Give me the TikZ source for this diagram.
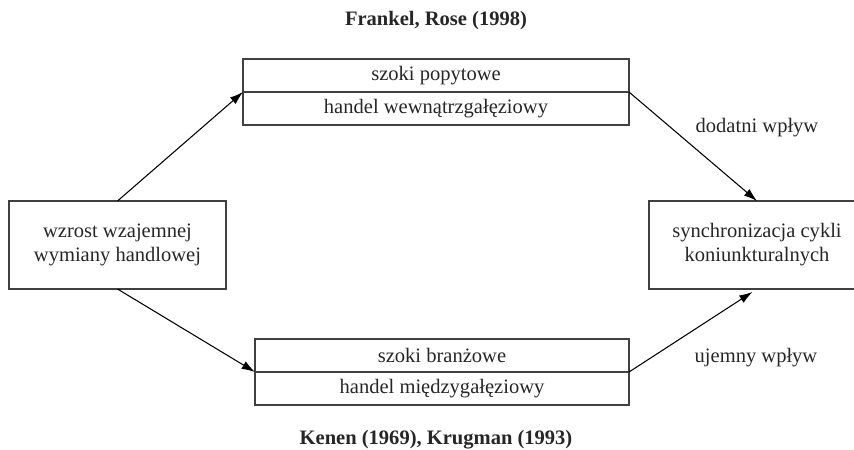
\documentclass[tikz,border=0pt]{standalone}
\usepackage{fontspec}
\setmainfont{Liberation Serif}
\usepackage{tikz}
\usetikzlibrary{arrows.meta, positioning}

\begin{document}
\begin{tikzpicture}[
        x=0.75pt, y=-0.75pt,
        every node/.style={font=\fontsize{15.4}{18}\selectfont, text=black!85},
        box/.style={rectangle, draw=black!75, line width=1.1pt, align=center, inner sep=0pt, outer sep=0pt},
        row/.style={box, minimum height=24.75pt},
        source/.style={font=\fontsize{15.4}{18}\selectfont\bfseries},
        arrow/.style={-{Latex[length=10pt, width=6.5pt]}, line width=0.8pt, draw=black},
    ]
        \useasboundingbox (0,0) rectangle (854,450);

        % Sources
        \node[source] (frankel) at (436,21) {Frankel, Rose (1998)};
        \node[source] (kenen) at (436,440) {Kenen (1969), Krugman (1993)};

        % Outer boxes
        \node[box, minimum width=162.75pt, minimum height=66pt] (wzrost) at (117.5,245) {wzrost wzajemnej\\wymiany handlowej};
        \node[box, minimum width=162pt, minimum height=66pt] (synchr) at (757,245) {synchronizacja cykli\\koniunkturalnych};

        % Upper channel
        \node[row, minimum width=289.5pt] (popyt) at (436,75.5) {szoki popytowe};
        \node[row, minimum width=289.5pt, below=0pt of popyt] (wewn) {handel wewnątrzgałęziowy};

        % Lower channel
        \node[row, minimum width=280.5pt] (branz) at (442,355.5) {szoki branżowe};
        \node[row, minimum width=280.5pt, below=0pt of branz] (miedzy) {handel międzygałęziowy};

        % Effect labels
        \node (dodatni) at (757,128) {dodatni wpływ};
        \node (ujemny) at (756,358) {ujemny wpływ};

        % Arrows
        \draw[arrow] (wzrost.north) -- (popyt.south west);
        \draw[arrow] (popyt.south east) -- (synchr.north);
        \draw[arrow] (wzrost.south) -- (branz.south west);
        \draw[arrow, shorten >=4pt] (branz.south east) -- (synchr.south);
    \end{tikzpicture}
\end{document}
